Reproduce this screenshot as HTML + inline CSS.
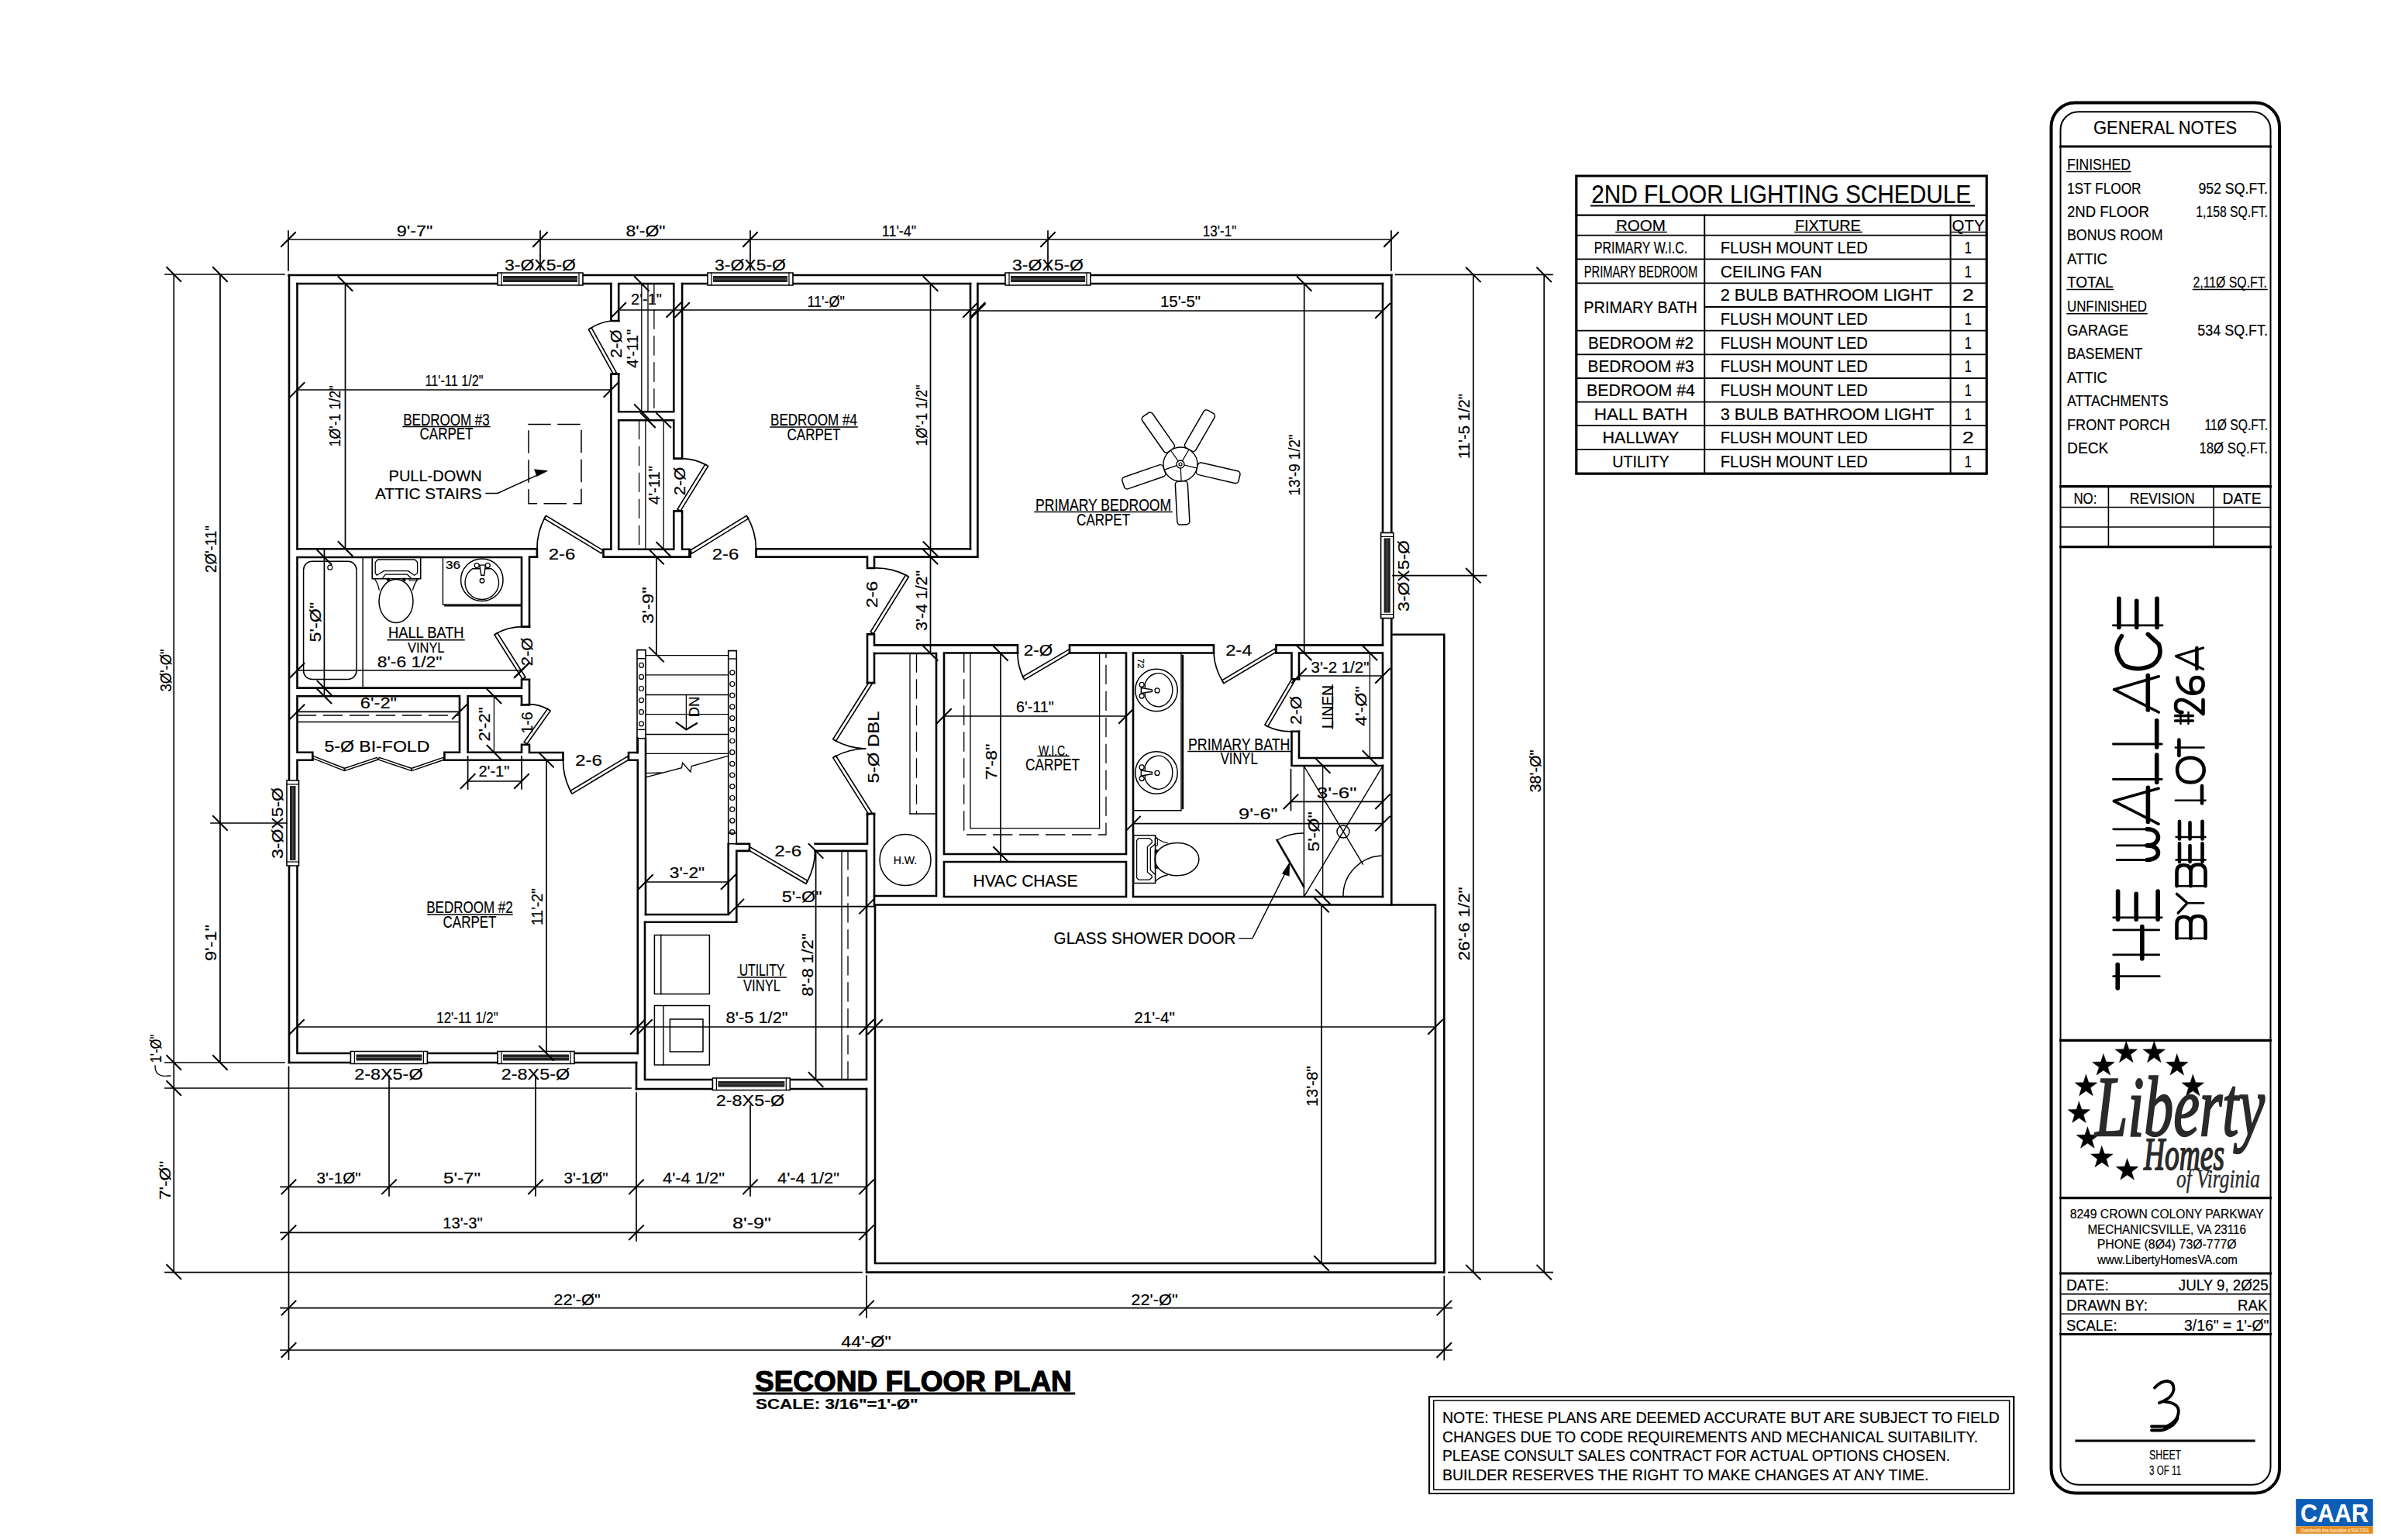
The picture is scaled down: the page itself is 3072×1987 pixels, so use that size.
<!DOCTYPE html>
<html><head><meta charset="utf-8"><style>
html,body{margin:0;padding:0;background:#fff;}
svg{display:block;}
svg text{font-family:"Liberation Sans",sans-serif;fill:#000;stroke:#000;stroke-width:0.2px;}
</style></head><body>
<svg width="3072" height="1987" viewBox="0 0 3072 1987" stroke="#000" fill="none" stroke-linecap="square">
<defs><filter id="thin3" x="-10%" y="-10%" width="120%" height="120%"><feMorphology operator="erode" radius="1.9"/></filter><filter id="thin2" x="-10%" y="-10%" width="120%" height="120%"><feMorphology operator="erode" radius="0.9"/></filter></defs>
<rect x="0" y="0" width="3072" height="1987" fill="#fff" stroke="none"/>
<line x1="372.5" y1="355" x2="642" y2="355" stroke-width="2.6"/>
<line x1="752" y1="355" x2="913" y2="355" stroke-width="2.6"/>
<line x1="1023" y1="355" x2="1297" y2="355" stroke-width="2.6"/>
<line x1="1407" y1="355" x2="1795.3" y2="355" stroke-width="2.6"/>
<line x1="1795.3" y1="355" x2="1795.3" y2="687.4" stroke-width="2.6"/>
<line x1="1795.3" y1="797.6" x2="1795.3" y2="1167.5" stroke-width="2.6"/>
<line x1="373" y1="355" x2="373" y2="1007" stroke-width="2.6"/>
<line x1="373" y1="1117" x2="373" y2="1371" stroke-width="2.6"/>
<line x1="373" y1="1371" x2="452.4" y2="1371" stroke-width="2.6"/>
<line x1="551.4" y1="1371" x2="642" y2="1371" stroke-width="2.6"/>
<line x1="741" y1="1371" x2="821" y2="1371" stroke-width="2.6"/>
<line x1="821" y1="1371" x2="821" y2="1405" stroke-width="2.6"/>
<line x1="821" y1="1405" x2="919.4" y2="1405" stroke-width="2.6"/>
<line x1="1019.3" y1="1405" x2="1118" y2="1405" stroke-width="2.6"/>
<polyline points="1118,1405 1118,1641.6 1863.3,1641.6 1863.3,818.7 1795.3,818.7" stroke-width="2.6"/>
<polyline points="1129,1167.5 1129,1630 1852,1630 1852,1167.5 1129,1167.5" stroke-width="2.6"/>
<line x1="383.5" y1="366" x2="642" y2="366" stroke-width="2.6"/>
<line x1="752" y1="366" x2="788.4" y2="366" stroke-width="2.6"/>
<line x1="383.5" y1="366" x2="383.5" y2="708.3" stroke-width="2.6"/>
<polyline points="383.5,708.3 692.9,708.3 692.9,718.6" stroke-width="2.6"/>
<polyline points="788.4,366 788.4,414 798.2,414" stroke-width="2.6"/>
<polyline points="798.2,482.6 788.4,482.6 788.4,708.8 778.5,708.8 778.5,718.6 889.5,718.6 889.5,708.8 880.1,708.8 880.1,659.4 869.3,659.4" stroke-width="2.6"/>
<polyline points="869.3,591.6 880.1,591.6 880.1,366" stroke-width="2.6"/>
<polyline points="798.2,414 798.2,366 869.3,366 869.3,531.2 798.2,531.2 798.2,482.6" stroke-width="2.6"/>
<polyline points="869.3,591.6 869.3,542.3 798.2,542.3 798.2,708.8 869.3,708.8 869.3,659.4" stroke-width="2.6"/>
<line x1="827.8" y1="366" x2="827.8" y2="531.2" stroke-width="1.3"/>
<line x1="836" y1="366" x2="836" y2="531.2" stroke-width="1.3"/>
<line x1="843.9" y1="366" x2="843.9" y2="531.2" stroke-width="1.3" stroke-dasharray="24 10"/>
<line x1="824.6" y1="542.3" x2="824.6" y2="708.8" stroke-width="1.3" stroke-dasharray="24 10"/>
<line x1="832.8" y1="542.3" x2="832.8" y2="708.8" stroke-width="1.3"/>
<line x1="856.2" y1="542.3" x2="856.2" y2="708.8" stroke-width="1.3"/>
<line x1="880.1" y1="366" x2="913" y2="366" stroke-width="2.6"/>
<line x1="1023" y1="366" x2="1252" y2="366" stroke-width="2.6"/>
<line x1="1252" y1="366" x2="1252" y2="708.3" stroke-width="2.6"/>
<polyline points="1252,708.3 975.5,708.3 975.5,718.6 1119,718.6 1119,733 1128,733 1128,718.6 1261.4,718.6 1261.4,366" stroke-width="2.6"/>
<line x1="890.8" y1="709.6" x2="890.8" y2="718.6" stroke-width="2.6"/>
<line x1="1261.4" y1="366" x2="1297" y2="366" stroke-width="2.6"/>
<line x1="1407" y1="366" x2="1784" y2="366" stroke-width="2.6"/>
<line x1="1784" y1="366" x2="1784" y2="687.4" stroke-width="2.6"/>
<line x1="1784" y1="797.6" x2="1784" y2="832.4" stroke-width="2.6"/>
<polyline points="1784,832.4 1646.5,832.4 1646.5,842.5" stroke-width="2.6"/>
<polyline points="1566,842.5 1566,832.4 1380,832.4 1380,842.5" stroke-width="2.6"/>
<polyline points="1313,842.5 1313,832.4 1128,832.4 1128,818.4 1119,818.4 1119,881" stroke-width="2.6"/>
<polyline points="1119,1050 1119,1088.8 1051.6,1088.8" stroke-width="2.6"/>
<polyline points="673,808.7 683,808.7 683,718.6 692.9,718.6" stroke-width="2.6"/>
<polyline points="683,808.7 673,808.7 673,719 383.5,719 383.5,887.6 673,887.6 673,876.7 683,876.7 683,909.4 673,909.4" stroke-width="2.6"/>
<polyline points="673,909.4 673,898.3 603.6,898.3 603.6,970.8 673,970.8 673,960.7 683,960.7 683,971 726.5,971 726.5,980.7" stroke-width="2.6"/>
<line x1="637.4" y1="898.3" x2="637.4" y2="970.8" stroke-width="1.3"/>
<polyline points="403.3,980.8 403.3,970.8 383.5,970.8 383.5,898.3 593,898.3 593,970.8 573.4,970.8 573.4,980.8" stroke-width="2.6"/>
<line x1="383.5" y1="923" x2="593" y2="923" stroke-width="1.3" stroke-dasharray="24 10"/>
<line x1="383.5" y1="931.5" x2="593" y2="931.5" stroke-width="1.3"/>
<polyline points="383.5,1007 383.5,980.8 403.3,980.8" stroke-width="2.6"/>
<polyline points="573.4,980.8 726.5,980.7" stroke-width="2.6"/>
<polyline points="383.5,1117 383.5,1359 452.4,1359" stroke-width="2.6"/>
<line x1="551.4" y1="1359" x2="642" y2="1359" stroke-width="2.6"/>
<line x1="741" y1="1359" x2="822.8" y2="1359" stroke-width="2.6"/>
<polyline points="822.8,1359 822.8,980.7 811,980.7 811,971 822.6,971 822.6,952.7" stroke-width="2.6"/>
<polygon points="822,838.6 833,838.6 833,952.7 822,952.7" stroke-width="1.6"/>
<line x1="822" y1="849.7" x2="833" y2="849.7" stroke-width="1.4"/>
<line x1="822" y1="941.4" x2="833" y2="941.4" stroke-width="1.4"/>
<circle cx="827.5" cy="858.3" r="3" stroke-width="1.2"/>
<circle cx="827.5" cy="873.4" r="3" stroke-width="1.2"/>
<circle cx="827.5" cy="888.5" r="3" stroke-width="1.2"/>
<circle cx="827.5" cy="903.6" r="3" stroke-width="1.2"/>
<circle cx="827.5" cy="918.7" r="3" stroke-width="1.2"/>
<circle cx="827.5" cy="933.8" r="3" stroke-width="1.2"/>
<polygon points="939.7,839.6 950.3,839.6 950.3,1088.8 939.7,1088.8" stroke-width="1.6"/>
<line x1="939.7" y1="850" x2="950.3" y2="850" stroke-width="1.4"/>
<line x1="939.7" y1="1075" x2="950.3" y2="1075" stroke-width="1.4"/>
<circle cx="944.8" cy="867.8" r="3" stroke-width="1.2"/>
<circle cx="944.8" cy="882.5" r="3" stroke-width="1.2"/>
<circle cx="944.8" cy="897.2" r="3" stroke-width="1.2"/>
<circle cx="944.8" cy="911.9" r="3" stroke-width="1.2"/>
<circle cx="944.8" cy="926.6" r="3" stroke-width="1.2"/>
<circle cx="944.8" cy="941.3" r="3" stroke-width="1.2"/>
<circle cx="944.8" cy="956" r="3" stroke-width="1.2"/>
<circle cx="944.8" cy="970.7" r="3" stroke-width="1.2"/>
<circle cx="944.8" cy="985.4" r="3" stroke-width="1.2"/>
<circle cx="944.8" cy="1000.1" r="3" stroke-width="1.2"/>
<circle cx="944.8" cy="1014.8" r="3" stroke-width="1.2"/>
<circle cx="944.8" cy="1029.5" r="3" stroke-width="1.2"/>
<circle cx="944.8" cy="1044.2" r="3" stroke-width="1.2"/>
<circle cx="944.8" cy="1058.9" r="3" stroke-width="1.2"/>
<circle cx="944.8" cy="1073.6" r="3" stroke-width="1.2"/>
<line x1="833" y1="845.6" x2="939.7" y2="845.6" stroke-width="1.3"/>
<line x1="833" y1="870.8" x2="939.7" y2="870.8" stroke-width="1.3"/>
<line x1="833" y1="896.5" x2="939.7" y2="896.5" stroke-width="1.3"/>
<line x1="833" y1="921.7" x2="939.7" y2="921.7" stroke-width="1.3"/>
<line x1="833" y1="947.5" x2="939.7" y2="947.5" stroke-width="1.3"/>
<line x1="833" y1="972.3" x2="939.7" y2="972.3" stroke-width="1.3"/>
<polyline points="833,1003 879.5,990.7 880.6,984.3 891,996 892.2,988.5 939.7,975.2" stroke-width="1.3"/>
<line x1="833" y1="997.6" x2="853" y2="997" stroke-width="1.3"/>
<line x1="833" y1="952.7" x2="833" y2="1180" stroke-width="2.6"/>
<line x1="822.6" y1="952.7" x2="822.6" y2="971" stroke-width="2.6"/>
<polyline points="833,1180 939.7,1180 939.7,1088.8" stroke-width="2.6"/>
<polyline points="833,1189.7 950.3,1189.7 950.3,1097.9 967,1097.9 967,1088.8 950.3,1088.8" stroke-width="2.6"/>
<line x1="885.4" y1="897" x2="885.4" y2="941.4" stroke-width="1.3"/>
<polyline points="872.7,932.3 885.4,941.4 898.9,933.3" stroke-width="2.2"/>
<text x="895.9" y="918.5" font-size="18.2" text-anchor="middle" textLength="27" lengthAdjust="spacingAndGlyphs" transform="rotate(-90 895.9 912)">DN</text>
<polyline points="1051.6,1097.9 1118,1097.9 1118,1393 1019.3,1393" stroke-width="2.6"/>
<polyline points="919.4,1393 832,1393 832,1189.7" stroke-width="2.6"/>
<line x1="1086" y1="1097.9" x2="1086" y2="1393" stroke-width="1.3"/>
<line x1="1094" y1="1097.9" x2="1094" y2="1393" stroke-width="1.3" stroke-dasharray="24 10"/>
<polygon points="844.4,1206.4 915.4,1206.4 915.4,1282.6 844.4,1282.6" stroke-width="1.5"/>
<line x1="852.8" y1="1206.4" x2="852.8" y2="1282.6" stroke-width="1.4"/>
<polygon points="844.4,1297.6 915.4,1297.6 915.4,1374 844.4,1374" stroke-width="1.5"/>
<line x1="856" y1="1297.6" x2="856" y2="1374" stroke-width="1.4"/>
<polygon points="864.4,1315 907,1315 907,1357 864.4,1357" stroke-width="1.5"/>
<line x1="1128" y1="843" x2="1128" y2="881" stroke-width="2.6"/>
<line x1="1128" y1="1050" x2="1128" y2="1167.5" stroke-width="2.6"/>
<line x1="1119" y1="1050" x2="1128" y2="1050" stroke-width="2.6"/>
<line x1="1119" y1="881" x2="1128" y2="881" stroke-width="2.6"/>
<polyline points="1128,843 1208,843 1208,1156 1128,1156" stroke-width="2.6"/>
<line x1="1174" y1="843" x2="1174" y2="1050" stroke-width="1.3"/>
<line x1="1182.5" y1="843" x2="1182.5" y2="1050" stroke-width="1.3" stroke-dasharray="24 10"/>
<line x1="1174" y1="1050" x2="1208" y2="1050" stroke-width="1.3"/>
<circle cx="1168" cy="1109.6" r="33" stroke-width="1.5"/>
<text x="1168" y="1114.6" font-size="14" text-anchor="middle" textLength="30.5" lengthAdjust="spacingAndGlyphs">H.W.</text>
<polyline points="1313,842.5 1218,842.5 1218,1102 1453,1102 1453,842.5 1380,842.5" stroke-width="2.6"/>
<polygon points="1218,1112 1453,1112 1453,1157 1218,1157" stroke-width="2.6"/>
<line x1="1252" y1="843" x2="1252" y2="1068.7" stroke-width="1.3"/>
<line x1="1252" y1="1068.7" x2="1418.6" y2="1068.7" stroke-width="1.3"/>
<line x1="1418.6" y1="1068.7" x2="1418.6" y2="843" stroke-width="1.3"/>
<polyline points="1243.7,843 1243.7,1077 1427,1077 1427,843" stroke-width="1.3" stroke-dasharray="24 10"/>
<polyline points="1566,842.5 1462,842.5 1462,1157 1784,1157" stroke-width="2.6"/>
<polyline points="1646.5,842.5 1666.5,842.5 1666.5,876.3 1676,876.3" stroke-width="2.6"/>
<polyline points="1676,943.8 1666.5,943.8 1666.5,988 1784,988" stroke-width="2.6"/>
<polyline points="1676,876.3 1676,842.5 1784,842.5 1784,978 1676,978 1676,943.8" stroke-width="2.6"/>
<line x1="1767.4" y1="842.5" x2="1767.4" y2="978" stroke-width="1.3"/>
<line x1="1682.4" y1="988" x2="1682.4" y2="1157" stroke-width="1.5"/>
<line x1="1784" y1="988" x2="1784" y2="1157" stroke-width="2.6"/>
<line x1="1682.4" y1="988.5" x2="1758.4" y2="1115" stroke-width="1.4"/>
<line x1="1784" y1="988.5" x2="1682.4" y2="1157" stroke-width="1.4"/>
<circle cx="1733" cy="1073" r="8" stroke-width="1.4"/>
<path d="M1733 1157 A52 52 0 0 1 1784 1104" stroke-width="1.5"/>
<line x1="1706.7" y1="988" x2="1706.7" y2="1157" stroke-width="1.3"/>
<line x1="1682" y1="1143.6" x2="1647.6" y2="1084" stroke-width="2.6"/>
<path d="M1647.6 1084 A68 68 0 0 1 1682 1075" stroke-width="1.4"/>
<polyline points="1462,1045.7 1524,1045.7 1524,843" stroke-width="1.4"/>
<line x1="1526" y1="846" x2="1526" y2="1043" stroke-width="2.4"/>
<circle cx="1492" cy="890.5" r="27.2" stroke-width="1.5"/>
<path d="M1477.3 881.9 A18.5 21.5 0 1 1 1477.3 898.6 Z" stroke-width="1.4"/>
<circle cx="1493" cy="890.9" r="3" stroke-width="1.3"/>
<polygon points="1472.3,887.5 1486.4,889.8 1486.4,892.3 1472.3,894.5" stroke-width="1.4" fill="#fff"/>
<circle cx="1473.2" cy="883.4" r="3" stroke-width="1.3" fill="#fff"/>
<circle cx="1473.2" cy="898" r="3" stroke-width="1.3" fill="#fff"/>
<circle cx="1492" cy="997" r="27.2" stroke-width="1.5"/>
<path d="M1477.3 988.4 A18.5 21.5 0 1 1 1477.3 1005.1 Z" stroke-width="1.4"/>
<circle cx="1493" cy="997.4" r="3" stroke-width="1.3"/>
<polygon points="1472.3,994 1486.4,996.3 1486.4,998.8 1472.3,1001" stroke-width="1.4" fill="#fff"/>
<circle cx="1473.2" cy="989.9" r="3" stroke-width="1.3" fill="#fff"/>
<circle cx="1473.2" cy="1004.5" r="3" stroke-width="1.3" fill="#fff"/>
<text x="1472" y="860" font-size="11.2" text-anchor="middle" textLength="13" lengthAdjust="spacingAndGlyphs" transform="rotate(90 1472 856)">72</text>
<polygon points="1462.5,1077.7 1490.6,1077.7 1490.6,1139.5 1462.5,1139.5" stroke-width="1.6"/>
<path d="M1469 1081.6 L1483 1081.6 L1486.2 1084.5 L1486.2 1087.5 L1480.4 1092.6 L1480.4 1125.2 L1486.2 1130 L1486.2 1132.5 L1483 1135.1 L1469 1135.1 L1466.6 1132.5 L1466.6 1084.5 Z" stroke-width="1.3"/>
<polyline points="1490.9,1088.7 1484.3,1094.3 1484.3,1122.4 1490.6,1128.5" stroke-width="1.3"/>
<ellipse cx="1518.5" cy="1108.6" rx="28.4" ry="21.2" stroke-width="1.5"/>
<path d="M1490.9 1079.9 Q1497 1086 1506 1087.6 M1490.9 1136.8 Q1497 1131 1506 1129" stroke-width="1.3"/>
<line x1="1490.3" y1="1098" x2="1490.3" y2="1119" stroke-width="1.3"/>
<polygon points="1490.8,1081.6 1493.4,1081.6 1493.4,1091 1490.8,1091" stroke-width="1"/>
<circle cx="1492" cy="1098.1" r="1.6" stroke-width="1.2" fill="#000"/>
<circle cx="1492" cy="1119.1" r="1.6" stroke-width="1.2" fill="#000"/>
<rect x="391.6" y="724.2" width="68.4" height="152.3" rx="11" stroke-width="1.5"/>
<circle cx="425.8" cy="732.2" r="3" stroke-width="1.2"/>
<line x1="468.1" y1="719" x2="468.1" y2="887.6" stroke-width="1.4"/>
<polygon points="480.2,718.6 542.7,718.6 542.7,746.8 480.2,746.8" stroke-width="1.6"/>
<path d="M486.2 742.2 L484.2 739.5 L484.2 725.5 L487.5 722 L535.3 722 L538.6 725.5 L538.6 739.5 L534.6 742.2 L526.5 736.7 L495.3 736.7 Z" stroke-width="1.3"/>
<polyline points="493.3,746.3 497.3,741.2 525.5,741.2 530.6,746.3" stroke-width="1.3"/>
<path d="M483.2 746.8 Q487.5 752 489.2 761 M539.6 746.8 Q535 752 532.6 761" stroke-width="1.3"/>
<ellipse cx="511" cy="775.5" rx="22" ry="28" stroke-width="1.5"/>
<circle cx="500.8" cy="747.8" r="1.6" stroke-width="1.2" fill="#000"/>
<circle cx="521.5" cy="747.8" r="1.6" stroke-width="1.2" fill="#000"/>
<polygon points="528.5,746.8 537.6,746.8 537.6,749.2 528.5,749.2" stroke-width="1"/>
<polyline points="571.4,719 571.4,780 673,780" stroke-width="1.4"/>
<line x1="573.9" y1="781.8" x2="671.2" y2="781.8" stroke-width="1.6"/>
<circle cx="621.8" cy="748.3" r="27.2" stroke-width="1.5"/>
<path d="M609.8 733.7 A21.7 21.7 0 1 0 633.8 733.7 Z" stroke-width="1.4"/>
<circle cx="622" cy="749.3" r="2.8" stroke-width="1.3"/>
<polygon points="618.8,729.1 626.3,729.1 624.8,742.2 620.8,742.2" stroke-width="1.4" fill="#fff"/>
<circle cx="615.2" cy="729.6" r="3" stroke-width="1.3" fill="#fff"/>
<circle cx="629.3" cy="729.6" r="3" stroke-width="1.3" fill="#fff"/>
<text x="584.5" y="733.5" font-size="15.4" text-anchor="middle" textLength="19" lengthAdjust="spacingAndGlyphs">36</text>
<polygon points="778.1,710.1 704.4,665.3 702.2,669.1 775.9,713.9" stroke-width="1.6"/>
<path d="M703.3 667.2 A86.2 86.2 0 0 0 692.9 708.5" stroke-width="1.7"/>
<polygon points="893.1,713.9 965.6,669.1 963.2,665.3 890.7,710.1" stroke-width="1.6"/>
<path d="M964.4 667.2 A85.2 85.2 0 0 1 975.5 708.5" stroke-width="1.7"/>
<polygon points="795.2,480.7 763.1,422.8 759.3,425 791.4,482.9" stroke-width="1.6"/>
<path d="M761.2 423.9 A66.2 66.2 0 0 1 788.4 414" stroke-width="1.7"/>
<polygon points="877.9,659.4 913.6,601.4 909.8,599 874.1,657" stroke-width="1.6"/>
<path d="M911.7 600.2 A68.1 68.1 0 0 0 880.1 591.6" stroke-width="1.7"/>
<polygon points="677.9,873.8 641.7,816.6 637.9,819 674.1,876.2" stroke-width="1.6"/>
<path d="M639.8 817.8 A67.7 67.7 0 0 1 673 808.7" stroke-width="1.7"/>
<polygon points="679.8,960 710.1,917.1 706.5,914.5 676.2,957.4" stroke-width="1.6"/>
<path d="M708.3 915.8 A52.5 52.5 0 0 0 673 909.4" stroke-width="1.7"/>
<polygon points="809.4,976.1 735.9,1020.4 738.1,1024.2 811.6,979.9" stroke-width="1.6"/>
<path d="M737 1022.3 A85.8 85.8 0 0 1 726.5 980.7" stroke-width="1.7"/>
<polygon points="965.9,1096.9 1039.9,1140.3 1042.1,1136.5 968.1,1093.1" stroke-width="1.6"/>
<path d="M1041 1138.4 A85.8 85.8 0 0 0 1051.6 1097.2" stroke-width="1.7"/>
<polygon points="1126.9,817.7 1172.4,744.2 1168.6,741.8 1123.1,815.3" stroke-width="1.6"/>
<path d="M1170.5 743 A86.4 86.4 0 0 0 1128 733" stroke-width="1.7"/>
<polygon points="1378.9,838.1 1319.6,873.1 1321.8,876.9 1381.1,841.9" stroke-width="1.6"/>
<path d="M1320.7 875 A68.9 68.9 0 0 1 1313 842.5" stroke-width="1.7"/>
<polygon points="1644.3,837.4 1576.7,877.9 1578.9,881.7 1646.5,841.2" stroke-width="1.6"/>
<path d="M1577.8 879.8 A78.8 78.8 0 0 1 1566 843" stroke-width="1.7"/>
<polygon points="1666.7,876.2 1631.9,935.3 1635.7,937.5 1670.5,878.4" stroke-width="1.6"/>
<path d="M1633.8 936.4 A68.6 68.6 0 0 0 1666.5 943.8" stroke-width="1.7"/>
<polygon points="1121.1,880.3 1074.7,953.8 1078.5,956.2 1124.9,882.7" stroke-width="1.6"/>
<path d="M1076.6 955 A86.9 86.9 0 0 0 1116.5 966" stroke-width="1.7"/>
<polygon points="1124.9,1048.8 1078.5,975.2 1074.7,977.6 1121.1,1051.2" stroke-width="1.6"/>
<path d="M1076.6 976.4 A87 87 0 0 1 1116.5 966" stroke-width="1.7"/>
<polygon points="402.8,978.2 444,994.3 445,991.5 403.8,975.4" stroke-width="1.4"/>
<polygon points="445,994.3 487.3,980.2 486.3,977.4 444,991.5" stroke-width="1.4"/>
<polygon points="488.3,980.2 530.5,994.3 531.5,991.5 489.3,977.4" stroke-width="1.4"/>
<polygon points="531.5,994.3 572.9,980.2 571.9,977.4 530.5,991.5" stroke-width="1.4"/>
<polygon points="642,352 752,352 752,368 642,368" stroke-width="1.6" fill="#fff"/>
<line x1="647" y1="352" x2="647" y2="368" stroke-width="1.2"/>
<line x1="747" y1="352" x2="747" y2="368" stroke-width="1.2"/>
<rect x="649" y="356" width="96" height="8" fill="#222" stroke="none"/>
<line x1="649" y1="360" x2="745" y2="360" stroke-width="0.8" stroke="#777"/>
<polygon points="913,352 1023,352 1023,368 913,368" stroke-width="1.6" fill="#fff"/>
<line x1="918" y1="352" x2="918" y2="368" stroke-width="1.2"/>
<line x1="1018" y1="352" x2="1018" y2="368" stroke-width="1.2"/>
<rect x="920" y="356" width="96" height="8" fill="#222" stroke="none"/>
<line x1="920" y1="360" x2="1016" y2="360" stroke-width="0.8" stroke="#777"/>
<polygon points="1297,352 1407,352 1407,368 1297,368" stroke-width="1.6" fill="#fff"/>
<line x1="1302" y1="352" x2="1302" y2="368" stroke-width="1.2"/>
<line x1="1402" y1="352" x2="1402" y2="368" stroke-width="1.2"/>
<rect x="1304" y="356" width="96" height="8" fill="#222" stroke="none"/>
<line x1="1304" y1="360" x2="1400" y2="360" stroke-width="0.8" stroke="#777"/>
<polygon points="452.4,1356.5 551.4,1356.5 551.4,1372.5 452.4,1372.5" stroke-width="1.6" fill="#fff"/>
<line x1="457.4" y1="1356.5" x2="457.4" y2="1372.5" stroke-width="1.2"/>
<line x1="546.4" y1="1356.5" x2="546.4" y2="1372.5" stroke-width="1.2"/>
<rect x="459.4" y="1360.5" width="85" height="8" fill="#222" stroke="none"/>
<line x1="459.4" y1="1364.5" x2="544.4" y2="1364.5" stroke-width="0.8" stroke="#777"/>
<polygon points="642,1356.5 741,1356.5 741,1372.5 642,1372.5" stroke-width="1.6" fill="#fff"/>
<line x1="647" y1="1356.5" x2="647" y2="1372.5" stroke-width="1.2"/>
<line x1="736" y1="1356.5" x2="736" y2="1372.5" stroke-width="1.2"/>
<rect x="649" y="1360.5" width="85" height="8" fill="#222" stroke="none"/>
<line x1="649" y1="1364.5" x2="734" y2="1364.5" stroke-width="0.8" stroke="#777"/>
<polygon points="919.4,1391 1019.3,1391 1019.3,1406.5 919.4,1406.5" stroke-width="1.6" fill="#fff"/>
<line x1="924.4" y1="1391" x2="924.4" y2="1406.5" stroke-width="1.2"/>
<line x1="1014.3" y1="1391" x2="1014.3" y2="1406.5" stroke-width="1.2"/>
<rect x="926.4" y="1395" width="85.9" height="7.5" fill="#222" stroke="none"/>
<line x1="926.4" y1="1398.8" x2="1012.3" y2="1398.8" stroke-width="0.8" stroke="#777"/>
<polygon points="370,1007 385.5,1007 385.5,1117 370,1117" stroke-width="1.6" fill="#fff"/>
<line x1="370" y1="1012" x2="385.5" y2="1012" stroke-width="1.2"/>
<line x1="370" y1="1112" x2="385.5" y2="1112" stroke-width="1.2"/>
<rect x="374" y="1014" width="7.5" height="96" fill="#222" stroke="none"/>
<line x1="377.8" y1="1014" x2="377.8" y2="1110" stroke-width="0.8" stroke="#777"/>
<polygon points="1781.6,687.4 1797.8,687.4 1797.8,797.6 1781.6,797.6" stroke-width="1.6" fill="#fff"/>
<line x1="1781.6" y1="692.4" x2="1797.8" y2="692.4" stroke-width="1.2"/>
<line x1="1781.6" y1="792.6" x2="1797.8" y2="792.6" stroke-width="1.2"/>
<rect x="1785.6" y="694.4" width="8.2" height="96.2" fill="#222" stroke="none"/>
<line x1="1789.7" y1="694.4" x2="1789.7" y2="790.6" stroke-width="0.8" stroke="#777"/>
<polygon points="682,547.4 750,547.4 750,649.7 682,649.7" stroke-width="1.5" stroke-dasharray="28 10"/>
<polyline points="627,636.4 642,636.4 705,607.7" stroke-width="1.5"/>
<polygon points="705,607.7 690,606 693,614" stroke-width="1.3" fill="#000"/>
<circle cx="1523" cy="599" r="22" stroke-width="1.4"/>
<circle cx="1523" cy="599" r="5" stroke-width="1.3"/>
<circle cx="1523" cy="599" r="2" stroke-width="1.2"/>
<g transform="translate(1523 599) rotate(-125)"><rect x="22" y="-8" width="56" height="16" rx="4" stroke-width="1.5" fill="#fff"/><line x1="5" y1="0" x2="22" y2="0" stroke-width="1.2"/></g>
<g transform="translate(1523 599) rotate(-60)"><rect x="22" y="-8" width="56" height="16" rx="4" stroke-width="1.5" fill="#fff"/><line x1="5" y1="0" x2="22" y2="0" stroke-width="1.2"/></g>
<g transform="translate(1523 599) rotate(13)"><rect x="22" y="-8" width="56" height="16" rx="4" stroke-width="1.5" fill="#fff"/><line x1="5" y1="0" x2="22" y2="0" stroke-width="1.2"/></g>
<g transform="translate(1523 599) rotate(87)"><rect x="22" y="-8" width="56" height="16" rx="4" stroke-width="1.5" fill="#fff"/><line x1="5" y1="0" x2="22" y2="0" stroke-width="1.2"/></g>
<g transform="translate(1523 599) rotate(161)"><rect x="22" y="-8" width="56" height="16" rx="4" stroke-width="1.5" fill="#fff"/><line x1="5" y1="0" x2="22" y2="0" stroke-width="1.2"/></g>
<line x1="372" y1="309" x2="1795" y2="309" stroke-width="1.7"/>
<line x1="363" y1="318" x2="381" y2="300" stroke-width="2"/>
<line x1="372" y1="298" x2="372" y2="349" stroke-width="1.7"/>
<line x1="688" y1="318" x2="706" y2="300" stroke-width="2"/>
<line x1="697" y1="298" x2="697" y2="330" stroke-width="1.7"/>
<line x1="959" y1="318" x2="977" y2="300" stroke-width="2"/>
<line x1="968" y1="298" x2="968" y2="330" stroke-width="1.7"/>
<line x1="1343" y1="318" x2="1361" y2="300" stroke-width="2"/>
<line x1="1352" y1="298" x2="1352" y2="330" stroke-width="1.7"/>
<line x1="1786" y1="318" x2="1804" y2="300" stroke-width="2"/>
<line x1="1795" y1="298" x2="1795" y2="349" stroke-width="1.7"/>
<text x="535" y="304.5" font-size="20.9" text-anchor="middle" textLength="46.6" lengthAdjust="spacingAndGlyphs">9'-7"</text>
<text x="833" y="304.5" font-size="20.9" text-anchor="middle" textLength="51" lengthAdjust="spacingAndGlyphs">8'-Ø"</text>
<text x="1160" y="304.5" font-size="20.9" text-anchor="middle" textLength="44.5" lengthAdjust="spacingAndGlyphs">11'-4"</text>
<text x="1573.5" y="304.5" font-size="20.9" text-anchor="middle" textLength="43.5" lengthAdjust="spacingAndGlyphs">13'-1"</text>
<text x="697" y="348.5" font-size="20.9" text-anchor="middle" textLength="92" lengthAdjust="spacingAndGlyphs">3-ØX5-Ø</text>
<text x="968" y="348.5" font-size="20.9" text-anchor="middle" textLength="92" lengthAdjust="spacingAndGlyphs">3-ØX5-Ø</text>
<text x="1352" y="348.5" font-size="20.9" text-anchor="middle" textLength="92" lengthAdjust="spacingAndGlyphs">3-ØX5-Ø</text>
<text x="501.4" y="1392.5" font-size="20.9" text-anchor="middle" textLength="88.3" lengthAdjust="spacingAndGlyphs">2-8X5-Ø</text>
<text x="691" y="1392.5" font-size="20.9" text-anchor="middle" textLength="88.3" lengthAdjust="spacingAndGlyphs">2-8X5-Ø</text>
<text x="968" y="1426.5" font-size="20.9" text-anchor="middle" textLength="88.3" lengthAdjust="spacingAndGlyphs">2-8X5-Ø</text>
<text x="357" y="1069.5" font-size="20.9" text-anchor="middle" textLength="92" lengthAdjust="spacingAndGlyphs" transform="rotate(-90 357 1062)">3-ØX5-Ø</text>
<text x="1810.7" y="750.5" font-size="20.9" text-anchor="middle" textLength="92" lengthAdjust="spacingAndGlyphs" transform="rotate(-90 1810.7 743)">3-ØX5-Ø</text>
<line x1="697" y1="330" x2="697" y2="349" stroke-width="1.7"/>
<line x1="968" y1="330" x2="968" y2="349" stroke-width="1.7"/>
<line x1="1352" y1="330" x2="1352" y2="349" stroke-width="1.7"/>
<line x1="213" y1="354" x2="367" y2="354" stroke-width="1.7"/>
<line x1="224.3" y1="354" x2="224.3" y2="1641" stroke-width="1.7"/>
<line x1="284" y1="354" x2="284" y2="1371" stroke-width="1.7"/>
<line x1="215.3" y1="345" x2="233.3" y2="363" stroke-width="2"/>
<line x1="215.3" y1="1362" x2="233.3" y2="1380" stroke-width="2"/>
<line x1="215.3" y1="1395" x2="233.3" y2="1413" stroke-width="2"/>
<line x1="215.3" y1="1632" x2="233.3" y2="1650" stroke-width="2"/>
<line x1="275" y1="345" x2="293" y2="363" stroke-width="2"/>
<line x1="275" y1="1053" x2="293" y2="1071" stroke-width="2"/>
<line x1="275" y1="1362" x2="293" y2="1380" stroke-width="2"/>
<line x1="272" y1="1062" x2="370" y2="1062" stroke-width="1.7"/>
<line x1="213" y1="1371" x2="367" y2="1371" stroke-width="1.7"/>
<line x1="213" y1="1404" x2="814" y2="1404" stroke-width="1.7"/>
<line x1="213" y1="1641.7" x2="1112" y2="1641.7" stroke-width="1.7"/>
<text x="271" y="716" font-size="20.9" text-anchor="middle" textLength="61" lengthAdjust="spacingAndGlyphs" transform="rotate(-90 271 708.5)">2Ø'-11"</text>
<text x="271.6" y="1224.1" font-size="20.9" text-anchor="middle" textLength="47" lengthAdjust="spacingAndGlyphs" transform="rotate(-90 271.6 1216.6)">9'-1"</text>
<text x="213" y="872.5" font-size="20.9" text-anchor="middle" textLength="55" lengthAdjust="spacingAndGlyphs" transform="rotate(-90 213 865)">3Ø'-Ø"</text>
<text x="200" y="1360.5" font-size="20.9" text-anchor="middle" textLength="36.7" lengthAdjust="spacingAndGlyphs" transform="rotate(-90 200 1353)">1'-Ø"</text>
<path d="M200 1375 C200 1385 205 1390 220 1388" stroke-width="1.3"/>
<text x="212" y="1530.5" font-size="20.9" text-anchor="middle" textLength="50" lengthAdjust="spacingAndGlyphs" transform="rotate(-90 212 1523)">7'-Ø"</text>
<line x1="1800.6" y1="354.4" x2="2003" y2="354.4" stroke-width="1.7"/>
<line x1="1900.9" y1="354.4" x2="1900.9" y2="1641.6" stroke-width="1.7"/>
<line x1="1992.2" y1="354.4" x2="1992.2" y2="1641.6" stroke-width="1.7"/>
<line x1="1891.9" y1="345.4" x2="1909.9" y2="363.4" stroke-width="2"/>
<line x1="1891.9" y1="733.7" x2="1909.9" y2="751.7" stroke-width="2"/>
<line x1="1891.9" y1="1632.6" x2="1909.9" y2="1650.6" stroke-width="2"/>
<line x1="1983.2" y1="345.4" x2="2001.2" y2="363.4" stroke-width="2"/>
<line x1="1983.2" y1="1632.6" x2="2001.2" y2="1650.6" stroke-width="2"/>
<line x1="1797" y1="742.7" x2="1917.7" y2="742.7" stroke-width="1.7"/>
<line x1="1868.8" y1="1641.6" x2="2003.2" y2="1641.6" stroke-width="1.7"/>
<text x="1888" y="557.5" font-size="20.9" text-anchor="middle" textLength="84" lengthAdjust="spacingAndGlyphs" transform="rotate(-90 1888 550)">11'-5 1/2"</text>
<text x="1888" y="1199.5" font-size="20.9" text-anchor="middle" textLength="95" lengthAdjust="spacingAndGlyphs" transform="rotate(-90 1888 1192)">26'-6 1/2"</text>
<text x="1980" y="1002.5" font-size="20.9" text-anchor="middle" textLength="55" lengthAdjust="spacingAndGlyphs" transform="rotate(-90 1980 995)">38'-Ø"</text>
<line x1="372.5" y1="1376.5" x2="372.5" y2="1754" stroke-width="1.7"/>
<line x1="502" y1="1388" x2="502" y2="1543" stroke-width="1.7"/>
<line x1="691" y1="1388" x2="691" y2="1543" stroke-width="1.7"/>
<line x1="821" y1="1410" x2="821" y2="1601" stroke-width="1.7"/>
<line x1="968" y1="1426" x2="968" y2="1543" stroke-width="1.7"/>
<line x1="1118" y1="1646" x2="1118" y2="1700" stroke-width="1.7"/>
<line x1="1863.3" y1="1646.8" x2="1863.3" y2="1754.5" stroke-width="1.7"/>
<line x1="362" y1="1531.4" x2="1118" y2="1531.4" stroke-width="1.7"/>
<line x1="363.5" y1="1540.4" x2="381.5" y2="1522.4" stroke-width="2"/>
<line x1="493" y1="1540.4" x2="511" y2="1522.4" stroke-width="2"/>
<line x1="682" y1="1540.4" x2="700" y2="1522.4" stroke-width="2"/>
<line x1="812" y1="1540.4" x2="830" y2="1522.4" stroke-width="2"/>
<line x1="959" y1="1540.4" x2="977" y2="1522.4" stroke-width="2"/>
<line x1="1109" y1="1540.4" x2="1127" y2="1522.4" stroke-width="2"/>
<line x1="362" y1="1590.3" x2="1118" y2="1590.3" stroke-width="1.7"/>
<line x1="363.5" y1="1599.3" x2="381.5" y2="1581.3" stroke-width="2"/>
<line x1="812" y1="1599.3" x2="830" y2="1581.3" stroke-width="2"/>
<line x1="1109" y1="1599.3" x2="1127" y2="1581.3" stroke-width="2"/>
<line x1="362" y1="1687.6" x2="1873" y2="1687.6" stroke-width="1.7"/>
<line x1="363.5" y1="1696.6" x2="381.5" y2="1678.6" stroke-width="2"/>
<line x1="1109" y1="1696.6" x2="1127" y2="1678.6" stroke-width="2"/>
<line x1="1854.3" y1="1696.6" x2="1872.3" y2="1678.6" stroke-width="2"/>
<line x1="362" y1="1742" x2="1873" y2="1742" stroke-width="1.7"/>
<line x1="363.5" y1="1751" x2="381.5" y2="1733" stroke-width="2"/>
<line x1="1854.3" y1="1751" x2="1872.3" y2="1733" stroke-width="2"/>
<text x="437" y="1526.5" font-size="20.9" text-anchor="middle" textLength="57" lengthAdjust="spacingAndGlyphs">3'-1Ø"</text>
<text x="596" y="1526.5" font-size="20.9" text-anchor="middle" textLength="48" lengthAdjust="spacingAndGlyphs">5'-7"</text>
<text x="756" y="1526.5" font-size="20.9" text-anchor="middle" textLength="57" lengthAdjust="spacingAndGlyphs">3'-1Ø"</text>
<text x="895" y="1526.5" font-size="20.9" text-anchor="middle" textLength="80" lengthAdjust="spacingAndGlyphs">4'-4 1/2"</text>
<text x="1043" y="1526.5" font-size="20.9" text-anchor="middle" textLength="80" lengthAdjust="spacingAndGlyphs">4'-4 1/2"</text>
<text x="597" y="1584.5" font-size="20.9" text-anchor="middle" textLength="51.6" lengthAdjust="spacingAndGlyphs">13'-3"</text>
<text x="970" y="1584.5" font-size="20.9" text-anchor="middle" textLength="50" lengthAdjust="spacingAndGlyphs">8'-9"</text>
<text x="744.5" y="1683.5" font-size="20.9" text-anchor="middle" textLength="60.4" lengthAdjust="spacingAndGlyphs">22'-Ø"</text>
<text x="1489.5" y="1683.5" font-size="20.9" text-anchor="middle" textLength="60.4" lengthAdjust="spacingAndGlyphs">22'-Ø"</text>
<text x="1117.5" y="1737.5" font-size="20.9" text-anchor="middle" textLength="64.5" lengthAdjust="spacingAndGlyphs">44'-Ø"</text>
<line x1="445.5" y1="366" x2="445.5" y2="708" stroke-width="1.7"/>
<line x1="436.5" y1="357" x2="454.5" y2="375" stroke-width="2"/>
<line x1="436.5" y1="699" x2="454.5" y2="717" stroke-width="2"/>
<text x="431" y="544.5" font-size="20.9" text-anchor="middle" textLength="79" lengthAdjust="spacingAndGlyphs" transform="rotate(-90 431 537)">1Ø'-1 1/2"</text>
<line x1="383.5" y1="503" x2="788.4" y2="503" stroke-width="1.7"/>
<line x1="374.5" y1="512" x2="392.5" y2="494" stroke-width="2"/>
<line x1="779.4" y1="512" x2="797.4" y2="494" stroke-width="2"/>
<text x="586" y="497.5" font-size="20.9" text-anchor="middle" textLength="75" lengthAdjust="spacingAndGlyphs">11'-11 1/2"</text>
<line x1="798.2" y1="400" x2="1261" y2="400" stroke-width="1.7"/>
<line x1="789.2" y1="409" x2="807.2" y2="391" stroke-width="2"/>
<line x1="860.3" y1="409" x2="878.3" y2="391" stroke-width="2"/>
<line x1="871.1" y1="409" x2="889.1" y2="391" stroke-width="2"/>
<line x1="1243" y1="409" x2="1261" y2="391" stroke-width="2"/>
<line x1="1252.4" y1="409" x2="1270.4" y2="391" stroke-width="2"/>
<text x="834" y="393.1" font-size="20.9" text-anchor="middle" textLength="40" lengthAdjust="spacingAndGlyphs">2'-1"</text>
<line x1="818.8" y1="357" x2="836.8" y2="375" stroke-width="2"/>
<line x1="818.8" y1="522.2" x2="836.8" y2="540.2" stroke-width="2"/>
<line x1="827" y1="533.3" x2="845" y2="551.3" stroke-width="2"/>
<line x1="847.2" y1="533.3" x2="865.2" y2="551.3" stroke-width="2"/>
<line x1="847.2" y1="699.8" x2="865.2" y2="717.8" stroke-width="2"/>
<text x="815.5" y="457.3" font-size="20.9" text-anchor="middle" textLength="50" lengthAdjust="spacingAndGlyphs" transform="rotate(-90 815.5 449.8)">4'-11"</text>
<text x="794.5" y="451.1" font-size="20.9" text-anchor="middle" textLength="36.7" lengthAdjust="spacingAndGlyphs" transform="rotate(-90 794.5 443.6)">2-Ø</text>
<text x="843.9" y="633.5" font-size="20.9" text-anchor="middle" textLength="50" lengthAdjust="spacingAndGlyphs" transform="rotate(-90 843.9 626)">4'-11"</text>
<text x="876" y="628.5" font-size="20.9" text-anchor="middle" textLength="36.7" lengthAdjust="spacingAndGlyphs" transform="rotate(-90 876 621)">2-Ø</text>
<text x="1065.6" y="395.5" font-size="20.9" text-anchor="middle" textLength="48.4" lengthAdjust="spacingAndGlyphs">11'-Ø"</text>
<line x1="1200.5" y1="366" x2="1200.5" y2="843" stroke-width="1.7"/>
<line x1="1191.5" y1="357" x2="1209.5" y2="375" stroke-width="2"/>
<line x1="1191.5" y1="699.3" x2="1209.5" y2="717.3" stroke-width="2"/>
<line x1="1191.5" y1="709.6" x2="1209.5" y2="727.6" stroke-width="2"/>
<line x1="1191.5" y1="834" x2="1209.5" y2="852" stroke-width="2"/>
<text x="1188" y="543.5" font-size="20.9" text-anchor="middle" textLength="79" lengthAdjust="spacingAndGlyphs" transform="rotate(-90 1188 536)">1Ø'-1 1/2"</text>
<text x="1188" y="782.5" font-size="20.9" text-anchor="middle" textLength="78" lengthAdjust="spacingAndGlyphs" transform="rotate(-90 1188 775)">3'-4 1/2"</text>
<line x1="1262" y1="401" x2="1784" y2="401" stroke-width="1.7"/>
<line x1="1253" y1="410" x2="1271" y2="392" stroke-width="2"/>
<line x1="1775" y1="410" x2="1793" y2="392" stroke-width="2"/>
<text x="1523" y="395.5" font-size="20.9" text-anchor="middle" textLength="52" lengthAdjust="spacingAndGlyphs">15'-5"</text>
<line x1="1682.7" y1="366" x2="1682.7" y2="842.5" stroke-width="1.7"/>
<line x1="1673.7" y1="357" x2="1691.7" y2="375" stroke-width="2"/>
<line x1="1673.7" y1="833.5" x2="1691.7" y2="851.5" stroke-width="2"/>
<text x="1669" y="607.5" font-size="20.9" text-anchor="middle" textLength="79" lengthAdjust="spacingAndGlyphs" transform="rotate(-90 1669 600)">13'-9 1/2"</text>
<line x1="418.4" y1="708" x2="418.4" y2="898" stroke-width="1.7"/>
<line x1="409.4" y1="710" x2="427.4" y2="728" stroke-width="2"/>
<line x1="409.4" y1="878.6" x2="427.4" y2="896.6" stroke-width="2"/>
<text x="406.3" y="810.2" font-size="20.9" text-anchor="middle" textLength="51.6" lengthAdjust="spacingAndGlyphs" transform="rotate(-90 406.3 802.7)">5'-Ø"</text>
<line x1="383.5" y1="865" x2="673" y2="865" stroke-width="1.7"/>
<line x1="374.5" y1="874" x2="392.5" y2="856" stroke-width="2"/>
<line x1="664" y1="874" x2="682" y2="856" stroke-width="2"/>
<text x="528.6" y="860.5" font-size="20.9" text-anchor="middle" textLength="83.6" lengthAdjust="spacingAndGlyphs">8'-6 1/2"</text>
<line x1="383.5" y1="918.4" x2="593" y2="918.4" stroke-width="1.7"/>
<line x1="374.5" y1="927.4" x2="392.5" y2="909.4" stroke-width="2"/>
<line x1="584" y1="927.4" x2="602" y2="909.4" stroke-width="2"/>
<line x1="409.4" y1="889.3" x2="427.4" y2="907.3" stroke-width="2"/>
<text x="488.4" y="913.9" font-size="20.9" text-anchor="middle" textLength="47.3" lengthAdjust="spacingAndGlyphs">6'-2"</text>
<text x="486.4" y="970.3" font-size="20.9" text-anchor="middle" textLength="136" lengthAdjust="spacingAndGlyphs">5-Ø BI-FOLD</text>
<text x="624.7" y="942" font-size="20.9" text-anchor="middle" textLength="44" lengthAdjust="spacingAndGlyphs" transform="rotate(-90 624.7 934.5)">2'-2"</text>
<line x1="628.4" y1="889.3" x2="646.4" y2="907.3" stroke-width="2"/>
<line x1="628.4" y1="961.8" x2="646.4" y2="979.8" stroke-width="2"/>
<text x="679" y="940" font-size="20.9" text-anchor="middle" textLength="28" lengthAdjust="spacingAndGlyphs" transform="rotate(-90 679 932.5)">1-6</text>
<text x="679" y="848.5" font-size="20.9" text-anchor="middle" textLength="36.7" lengthAdjust="spacingAndGlyphs" transform="rotate(-90 679 841)">2-Ø</text>
<line x1="664" y1="874" x2="682" y2="856" stroke-width="2"/>
<line x1="603.6" y1="976" x2="603.6" y2="1018" stroke-width="1.7"/>
<line x1="673" y1="976" x2="673" y2="1018" stroke-width="1.7"/>
<line x1="603.6" y1="1008" x2="673" y2="1008" stroke-width="1.7"/>
<line x1="594.6" y1="1017" x2="612.6" y2="999" stroke-width="2"/>
<line x1="664" y1="1017" x2="682" y2="999" stroke-width="2"/>
<text x="637.4" y="1002" font-size="20.9" text-anchor="middle" textLength="40" lengthAdjust="spacingAndGlyphs">2'-1"</text>
<text x="725" y="721.6" font-size="19.6" text-anchor="middle" textLength="34.7" lengthAdjust="spacingAndGlyphs">2-6</text>
<text x="936" y="721.6" font-size="19.6" text-anchor="middle" textLength="34.7" lengthAdjust="spacingAndGlyphs">2-6</text>
<line x1="847" y1="718.6" x2="847" y2="844.6" stroke-width="1.7"/>
<line x1="838" y1="709.6" x2="856" y2="727.6" stroke-width="2"/>
<line x1="838" y1="835.6" x2="856" y2="853.6" stroke-width="2"/>
<text x="835.4" y="788.5" font-size="20.9" text-anchor="middle" textLength="47.4" lengthAdjust="spacingAndGlyphs" transform="rotate(-90 835.4 781)">3'-9"</text>
<text x="1124.7" y="774" font-size="19.6" text-anchor="middle" textLength="34.3" lengthAdjust="spacingAndGlyphs" transform="rotate(-90 1124.7 767)">2-6</text>
<text x="1126.5" y="971" font-size="19.6" text-anchor="middle" textLength="93" lengthAdjust="spacingAndGlyphs" transform="rotate(-90 1126.5 964)">5-Ø DBL</text>
<text x="759.5" y="988.4" font-size="19.6" text-anchor="middle" textLength="35" lengthAdjust="spacingAndGlyphs">2-6</text>
<line x1="705" y1="980.7" x2="705" y2="1359" stroke-width="1.7"/>
<line x1="696" y1="971.7" x2="714" y2="989.7" stroke-width="2"/>
<line x1="696" y1="1350" x2="714" y2="1368" stroke-width="2"/>
<text x="692.8" y="1177.5" font-size="20.9" text-anchor="middle" textLength="48" lengthAdjust="spacingAndGlyphs" transform="rotate(-90 692.8 1170)">11'-2"</text>
<line x1="383" y1="1325" x2="1129" y2="1325" stroke-width="1.7"/>
<line x1="374" y1="1334" x2="392" y2="1316" stroke-width="2"/>
<line x1="813.8" y1="1334" x2="831.8" y2="1316" stroke-width="2"/>
<line x1="823" y1="1334" x2="841" y2="1316" stroke-width="2"/>
<line x1="1109" y1="1334" x2="1127" y2="1316" stroke-width="2"/>
<line x1="1120" y1="1334" x2="1138" y2="1316" stroke-width="2"/>
<text x="603" y="1320.1" font-size="20.9" text-anchor="middle" textLength="79.3" lengthAdjust="spacingAndGlyphs">12'-11 1/2"</text>
<text x="606" y="1177.6" font-size="22.3" text-anchor="middle" textLength="111.6" lengthAdjust="spacingAndGlyphs">BEDROOM #2</text>
<line x1="552" y1="1180" x2="661" y2="1180" stroke-width="1.5"/>
<text x="606" y="1197.4" font-size="21.8" text-anchor="middle" textLength="69" lengthAdjust="spacingAndGlyphs">CARPET</text>
<line x1="833" y1="1138" x2="939.7" y2="1138" stroke-width="1.7"/>
<line x1="824" y1="1147" x2="842" y2="1129" stroke-width="2"/>
<line x1="930.7" y1="1147" x2="948.7" y2="1129" stroke-width="2"/>
<text x="886.5" y="1133.2" font-size="20.9" text-anchor="middle" textLength="45.4" lengthAdjust="spacingAndGlyphs">3'-2"</text>
<line x1="950.3" y1="1169.6" x2="1129" y2="1169.6" stroke-width="1.7"/>
<line x1="941.3" y1="1178.6" x2="959.3" y2="1160.6" stroke-width="2"/>
<line x1="1109" y1="1178.6" x2="1127" y2="1160.6" stroke-width="2"/>
<text x="1034.7" y="1163.8" font-size="20.9" text-anchor="middle" textLength="51.7" lengthAdjust="spacingAndGlyphs">5'-Ø"</text>
<text x="1016.7" y="1105.3" font-size="19.6" text-anchor="middle" textLength="35" lengthAdjust="spacingAndGlyphs">2-6</text>
<line x1="1052.6" y1="1097.9" x2="1052.6" y2="1393" stroke-width="1.7"/>
<line x1="1043.6" y1="1088.9" x2="1061.6" y2="1106.9" stroke-width="2"/>
<line x1="1043.6" y1="1384" x2="1061.6" y2="1402" stroke-width="2"/>
<text x="1041.6" y="1252.5" font-size="20.9" text-anchor="middle" textLength="81" lengthAdjust="spacingAndGlyphs" transform="rotate(-90 1041.6 1245)">8'-8 1/2"</text>
<text x="983" y="1258.8" font-size="21.8" text-anchor="middle" textLength="58.7" lengthAdjust="spacingAndGlyphs">UTILITY</text>
<line x1="952" y1="1261" x2="1014" y2="1261" stroke-width="1.5"/>
<text x="983" y="1278.8" font-size="21.8" text-anchor="middle" textLength="48" lengthAdjust="spacingAndGlyphs">VINYL</text>
<text x="976.6" y="1320.1" font-size="20.9" text-anchor="middle" textLength="80" lengthAdjust="spacingAndGlyphs">8'-5 1/2"</text>
<line x1="1218" y1="924" x2="1453" y2="924" stroke-width="1.7"/>
<line x1="1209" y1="933" x2="1227" y2="915" stroke-width="2"/>
<line x1="1444" y1="933" x2="1462" y2="915" stroke-width="2"/>
<text x="1335.4" y="919" font-size="20.9" text-anchor="middle" textLength="48.7" lengthAdjust="spacingAndGlyphs">6'-11"</text>
<line x1="1291" y1="843" x2="1291" y2="1112" stroke-width="1.7"/>
<line x1="1282" y1="834" x2="1300" y2="852" stroke-width="2"/>
<line x1="1282" y1="1093" x2="1300" y2="1111" stroke-width="2"/>
<text x="1278" y="990.5" font-size="20.9" text-anchor="middle" textLength="46.6" lengthAdjust="spacingAndGlyphs" transform="rotate(-90 1278 983)">7'-8"</text>
<text x="1359" y="974.5" font-size="18.2" text-anchor="middle" textLength="38" lengthAdjust="spacingAndGlyphs">W.I.C.</text>
<line x1="1339" y1="975.5" x2="1379" y2="975.5" stroke-width="1.4"/>
<text x="1358" y="993.8" font-size="21.8" text-anchor="middle" textLength="70" lengthAdjust="spacingAndGlyphs">CARPET</text>
<text x="1323" y="1143.8" font-size="21.8" text-anchor="middle" textLength="135" lengthAdjust="spacingAndGlyphs">HVAC CHASE</text>
<text x="1339.4" y="846" font-size="19.6" text-anchor="middle" textLength="37.3" lengthAdjust="spacingAndGlyphs">2-Ø</text>
<text x="1598.3" y="846" font-size="19.6" text-anchor="middle" textLength="34.3" lengthAdjust="spacingAndGlyphs">2-4</text>
<text x="1598.7" y="967.8" font-size="21.8" text-anchor="middle" textLength="131.5" lengthAdjust="spacingAndGlyphs">PRIMARY BATH</text>
<line x1="1533" y1="969.5" x2="1666" y2="969.5" stroke-width="1.5"/>
<text x="1598.7" y="985.8" font-size="21.8" text-anchor="middle" textLength="48" lengthAdjust="spacingAndGlyphs">VINYL</text>
<line x1="1462" y1="1062.6" x2="1784" y2="1062.6" stroke-width="1.7"/>
<line x1="1453" y1="1071.6" x2="1471" y2="1053.6" stroke-width="2"/>
<line x1="1775" y1="1071.6" x2="1793" y2="1053.6" stroke-width="2"/>
<text x="1623.3" y="1057.2" font-size="20.9" text-anchor="middle" textLength="50.6" lengthAdjust="spacingAndGlyphs">9'-6"</text>
<line x1="1665.5" y1="992.7" x2="1665.5" y2="1045.5" stroke-width="1.7"/>
<line x1="1665.5" y1="1034.3" x2="1784" y2="1034.3" stroke-width="1.7"/>
<line x1="1656.5" y1="1043.3" x2="1674.5" y2="1025.3" stroke-width="2"/>
<line x1="1775" y1="1043.3" x2="1793" y2="1025.3" stroke-width="2"/>
<text x="1724.6" y="1029.8" font-size="20.9" text-anchor="middle" textLength="51.7" lengthAdjust="spacingAndGlyphs">3'-6"</text>
<line x1="1697.7" y1="979" x2="1715.7" y2="997" stroke-width="2"/>
<line x1="1697.7" y1="1148" x2="1715.7" y2="1166" stroke-width="2"/>
<text x="1694" y="1080.5" font-size="20.9" text-anchor="middle" textLength="51.7" lengthAdjust="spacingAndGlyphs" transform="rotate(-90 1694 1073)">5'-Ø"</text>
<line x1="1676" y1="872" x2="1784" y2="872" stroke-width="1.7"/>
<line x1="1667" y1="881" x2="1685" y2="863" stroke-width="2"/>
<line x1="1775" y1="881" x2="1793" y2="863" stroke-width="2"/>
<text x="1729" y="868" font-size="20.9" text-anchor="middle" textLength="75" lengthAdjust="spacingAndGlyphs">3'-2 1/2"</text>
<line x1="1758.4" y1="833.5" x2="1776.4" y2="851.5" stroke-width="2"/>
<line x1="1758.4" y1="969" x2="1776.4" y2="987" stroke-width="2"/>
<text x="1755" y="918.5" font-size="20.9" text-anchor="middle" textLength="51.7" lengthAdjust="spacingAndGlyphs" transform="rotate(-90 1755 911)">4'-Ø"</text>
<text x="1712" y="919.5" font-size="20.9" text-anchor="middle" textLength="56" lengthAdjust="spacingAndGlyphs" transform="rotate(-90 1712 912)">LINEN</text>
<line x1="1719.3" y1="884" x2="1719.3" y2="940" stroke-width="1.5"/>
<text x="1671.8" y="923.4" font-size="19.6" text-anchor="middle" textLength="37" lengthAdjust="spacingAndGlyphs" transform="rotate(-90 1671.8 916.4)">2-Ø</text>
<text x="1477" y="1218.4" font-size="21.8" text-anchor="middle" textLength="234.8" lengthAdjust="spacingAndGlyphs">GLASS SHOWER DOOR</text>
<polyline points="1599,1210.6 1616,1210.6 1663.4,1116.2" stroke-width="1.4"/>
<polygon points="1663.4,1114 1655,1127 1663,1130" stroke-width="1.2" fill="#000"/>
<text x="1489.5" y="1320.1" font-size="20.9" text-anchor="middle" textLength="52.6" lengthAdjust="spacingAndGlyphs">21'-4"</text>
<line x1="1129" y1="1325" x2="1852" y2="1325" stroke-width="1.7"/>
<line x1="1843" y1="1334" x2="1861" y2="1316" stroke-width="2"/>
<line x1="1705" y1="1167.5" x2="1705" y2="1630" stroke-width="1.7"/>
<line x1="1696" y1="1158.5" x2="1714" y2="1176.5" stroke-width="2"/>
<line x1="1696" y1="1621" x2="1714" y2="1639" stroke-width="2"/>
<text x="1692.7" y="1409" font-size="20.9" text-anchor="middle" textLength="52.3" lengthAdjust="spacingAndGlyphs" transform="rotate(-90 1692.7 1401.5)">13'-8"</text>
<text x="576" y="548.5" font-size="22.3" text-anchor="middle" textLength="111.6" lengthAdjust="spacingAndGlyphs">BEDROOM #3</text>
<line x1="520" y1="550.5" x2="632" y2="550.5" stroke-width="1.5"/>
<text x="576" y="567.3" font-size="21.8" text-anchor="middle" textLength="69" lengthAdjust="spacingAndGlyphs">CARPET</text>
<text x="1050" y="549" font-size="22.3" text-anchor="middle" textLength="112" lengthAdjust="spacingAndGlyphs">BEDROOM #4</text>
<line x1="994" y1="551" x2="1106" y2="551" stroke-width="1.5"/>
<text x="1050" y="567.8" font-size="21.8" text-anchor="middle" textLength="69" lengthAdjust="spacingAndGlyphs">CARPET</text>
<text x="1423.6" y="659" font-size="22.3" text-anchor="middle" textLength="175" lengthAdjust="spacingAndGlyphs">PRIMARY BEDROOM</text>
<line x1="1335" y1="660.5" x2="1512" y2="660.5" stroke-width="1.5"/>
<text x="1423.6" y="677.8" font-size="21.8" text-anchor="middle" textLength="69" lengthAdjust="spacingAndGlyphs">CARPET</text>
<text x="561.6" y="620.5" font-size="20.9" text-anchor="middle" textLength="120" lengthAdjust="spacingAndGlyphs">PULL-DOWN</text>
<text x="552.8" y="643.9" font-size="20.9" text-anchor="middle" textLength="137.6" lengthAdjust="spacingAndGlyphs">ATTIC STAIRS</text>
<text x="549.8" y="823.2" font-size="20.3" text-anchor="middle" textLength="97.5" lengthAdjust="spacingAndGlyphs">HALL BATH</text>
<line x1="500" y1="825.8" x2="599" y2="825.8" stroke-width="1.5"/>
<text x="549.8" y="842.1" font-size="18.9" text-anchor="middle" textLength="47.4" lengthAdjust="spacingAndGlyphs">VINYL</text>
<text x="1178.4" y="1795.4" font-size="36.3" text-anchor="middle" textLength="408.8" lengthAdjust="spacingAndGlyphs" font-weight="bold" style="stroke-width:1.2px">SECOND FLOOR PLAN</text>
<line x1="973" y1="1798" x2="1385.7" y2="1798" stroke-width="3"/>
<text x="975" y="1817.6" font-size="17.6" text-anchor="start" textLength="209.7" lengthAdjust="spacingAndGlyphs" font-weight="bold">SCALE: 3/16"=1'-Ø"</text>
<polygon points="2033.8,227 2563.2,227 2563.2,611.2 2033.8,611.2" stroke-width="3.2"/>
<line x1="2033.8" y1="277.6" x2="2563.2" y2="277.6" stroke-width="2.2"/>
<line x1="2199.2" y1="277.6" x2="2199.2" y2="611.2" stroke-width="2"/>
<line x1="2516.6" y1="277.6" x2="2516.6" y2="611.2" stroke-width="2"/>
<line x1="2033.8" y1="303.7" x2="2563.2" y2="303.7" stroke-width="1.8"/>
<line x1="2033.8" y1="334.3" x2="2563.2" y2="334.3" stroke-width="1.8"/>
<line x1="2033.8" y1="365.4" x2="2563.2" y2="365.4" stroke-width="1.8"/>
<line x1="2033.8" y1="426.7" x2="2563.2" y2="426.7" stroke-width="1.8"/>
<line x1="2033.8" y1="457.3" x2="2563.2" y2="457.3" stroke-width="1.8"/>
<line x1="2033.8" y1="488" x2="2563.2" y2="488" stroke-width="1.8"/>
<line x1="2033.8" y1="518.6" x2="2563.2" y2="518.6" stroke-width="1.8"/>
<line x1="2033.8" y1="549.2" x2="2563.2" y2="549.2" stroke-width="1.8"/>
<line x1="2033.8" y1="579.8" x2="2563.2" y2="579.8" stroke-width="1.8"/>
<line x1="2199.2" y1="396" x2="2563.2" y2="396" stroke-width="1.8"/>
<text x="2298.2" y="262.4" font-size="33.5" text-anchor="middle" textLength="490" lengthAdjust="spacingAndGlyphs">2ND FLOOR LIGHTING SCHEDULE</text>
<line x1="2053" y1="265.5" x2="2547" y2="265.5" stroke-width="2"/>
<text x="2117" y="297.6" font-size="20.3" text-anchor="middle" textLength="64" lengthAdjust="spacingAndGlyphs">ROOM</text>
<line x1="2085" y1="299.5" x2="2150" y2="299.5" stroke-width="1.6"/>
<text x="2358.4" y="297.6" font-size="20.3" text-anchor="middle" textLength="84.8" lengthAdjust="spacingAndGlyphs">FIXTURE</text>
<line x1="2316" y1="299.5" x2="2402" y2="299.5" stroke-width="1.6"/>
<text x="2539.6" y="297.6" font-size="20.3" text-anchor="middle" textLength="42" lengthAdjust="spacingAndGlyphs">QTY</text>
<line x1="2518" y1="299.5" x2="2562" y2="299.5" stroke-width="1.6"/>
<text x="2117" y="326.6" font-size="21.4" text-anchor="middle" textLength="120.5" lengthAdjust="spacingAndGlyphs">PRIMARY W.I.C.</text>
<text x="2219.7" y="326.6" font-size="21.4" text-anchor="start" textLength="190" lengthAdjust="spacingAndGlyphs">FLUSH MOUNT LED</text>
<text x="2539.3" y="326.6" font-size="21.4" text-anchor="middle" textLength="9" lengthAdjust="spacingAndGlyphs">1</text>
<text x="2117" y="357.5" font-size="21.4" text-anchor="middle" textLength="146.5" lengthAdjust="spacingAndGlyphs">PRIMARY BEDROOM</text>
<text x="2219.7" y="357.5" font-size="21.4" text-anchor="start" textLength="131" lengthAdjust="spacingAndGlyphs">CEILING FAN</text>
<text x="2539.3" y="357.5" font-size="21.4" text-anchor="middle" textLength="9" lengthAdjust="spacingAndGlyphs">1</text>
<text x="2219.7" y="388.3" font-size="21.4" text-anchor="start" textLength="274" lengthAdjust="spacingAndGlyphs">2 BULB BATHROOM LIGHT</text>
<text x="2539.3" y="388.3" font-size="21.4" text-anchor="middle" textLength="15" lengthAdjust="spacingAndGlyphs">2</text>
<text x="2219.7" y="418.9" font-size="21.4" text-anchor="start" textLength="190" lengthAdjust="spacingAndGlyphs">FLUSH MOUNT LED</text>
<text x="2539.3" y="418.9" font-size="21.4" text-anchor="middle" textLength="9" lengthAdjust="spacingAndGlyphs">1</text>
<text x="2117" y="449.6" font-size="21.4" text-anchor="middle" textLength="136" lengthAdjust="spacingAndGlyphs">BEDROOM #2</text>
<text x="2219.7" y="449.6" font-size="21.4" text-anchor="start" textLength="190" lengthAdjust="spacingAndGlyphs">FLUSH MOUNT LED</text>
<text x="2539.3" y="449.6" font-size="21.4" text-anchor="middle" textLength="9" lengthAdjust="spacingAndGlyphs">1</text>
<text x="2117" y="480.2" font-size="21.4" text-anchor="middle" textLength="137" lengthAdjust="spacingAndGlyphs">BEDROOM #3</text>
<text x="2219.7" y="480.2" font-size="21.4" text-anchor="start" textLength="190" lengthAdjust="spacingAndGlyphs">FLUSH MOUNT LED</text>
<text x="2539.3" y="480.2" font-size="21.4" text-anchor="middle" textLength="9" lengthAdjust="spacingAndGlyphs">1</text>
<text x="2117" y="510.9" font-size="21.4" text-anchor="middle" textLength="140" lengthAdjust="spacingAndGlyphs">BEDROOM #4</text>
<text x="2219.7" y="510.9" font-size="21.4" text-anchor="start" textLength="190" lengthAdjust="spacingAndGlyphs">FLUSH MOUNT LED</text>
<text x="2539.3" y="510.9" font-size="21.4" text-anchor="middle" textLength="9" lengthAdjust="spacingAndGlyphs">1</text>
<text x="2117" y="541.5" font-size="21.4" text-anchor="middle" textLength="120.5" lengthAdjust="spacingAndGlyphs">HALL BATH</text>
<text x="2219.7" y="541.5" font-size="21.4" text-anchor="start" textLength="275.6" lengthAdjust="spacingAndGlyphs">3 BULB BATHROOM LIGHT</text>
<text x="2539.3" y="541.5" font-size="21.4" text-anchor="middle" textLength="9" lengthAdjust="spacingAndGlyphs">1</text>
<text x="2117" y="572.1" font-size="21.4" text-anchor="middle" textLength="99" lengthAdjust="spacingAndGlyphs">HALLWAY</text>
<text x="2219.7" y="572.1" font-size="21.4" text-anchor="start" textLength="190" lengthAdjust="spacingAndGlyphs">FLUSH MOUNT LED</text>
<text x="2539.3" y="572.1" font-size="21.4" text-anchor="middle" textLength="15" lengthAdjust="spacingAndGlyphs">2</text>
<text x="2117" y="602.9" font-size="21.4" text-anchor="middle" textLength="73.5" lengthAdjust="spacingAndGlyphs">UTILITY</text>
<text x="2219.7" y="602.9" font-size="21.4" text-anchor="start" textLength="190" lengthAdjust="spacingAndGlyphs">FLUSH MOUNT LED</text>
<text x="2539.3" y="602.9" font-size="21.4" text-anchor="middle" textLength="9" lengthAdjust="spacingAndGlyphs">1</text>
<text x="2116.6" y="403.6" font-size="21.4" text-anchor="middle" textLength="146.5" lengthAdjust="spacingAndGlyphs">PRIMARY BATH</text>
<rect x="2646.5" y="132.5" width="294.5" height="1794" rx="31" stroke-width="4"/>
<rect x="2658.5" y="144.2" width="271" height="1771.6" rx="23" stroke-width="2"/>
<text x="2793.6" y="172.6" font-size="24.4" text-anchor="middle" textLength="185" lengthAdjust="spacingAndGlyphs">GENERAL NOTES</text>
<line x1="2658.5" y1="189" x2="2929.5" y2="189" stroke-width="3.2"/>
<text x="2667" y="219" font-size="20.9" text-anchor="start" textLength="81.8" lengthAdjust="spacingAndGlyphs">FINISHED</text>
<line x1="2667" y1="221.5" x2="2748.8" y2="221.5" stroke-width="1.5"/>
<text x="2667" y="249.5" font-size="20.9" text-anchor="start" textLength="95.5" lengthAdjust="spacingAndGlyphs">1ST FLOOR</text>
<text x="2926" y="249.5" font-size="20.9" text-anchor="end" textLength="89.6" lengthAdjust="spacingAndGlyphs">952 SQ.FT.</text>
<text x="2667" y="279.8" font-size="20.9" text-anchor="start" textLength="106" lengthAdjust="spacingAndGlyphs">2ND FLOOR</text>
<text x="2926" y="279.8" font-size="20.9" text-anchor="end" textLength="92.7" lengthAdjust="spacingAndGlyphs">1,158 SQ.FT.</text>
<text x="2667" y="310.1" font-size="20.9" text-anchor="start" textLength="123.5" lengthAdjust="spacingAndGlyphs">BONUS ROOM</text>
<text x="2667" y="340.5" font-size="20.9" text-anchor="start" textLength="51.8" lengthAdjust="spacingAndGlyphs">ATTIC</text>
<text x="2667" y="371" font-size="20.9" text-anchor="start" textLength="59.6" lengthAdjust="spacingAndGlyphs">TOTAL</text>
<line x1="2667" y1="373.5" x2="2726.6" y2="373.5" stroke-width="1.5"/>
<text x="2925" y="371" font-size="20.9" text-anchor="end" textLength="95.5" lengthAdjust="spacingAndGlyphs">2,11Ø SQ.FT.</text>
<line x1="2829.5" y1="373.5" x2="2925" y2="373.5" stroke-width="1.5"/>
<text x="2667" y="402.2" font-size="20.9" text-anchor="start" textLength="103" lengthAdjust="spacingAndGlyphs">UNFINISHED</text>
<line x1="2667" y1="404.7" x2="2770" y2="404.7" stroke-width="1.5"/>
<text x="2667" y="432.5" font-size="20.9" text-anchor="start" textLength="79" lengthAdjust="spacingAndGlyphs">GARAGE</text>
<text x="2926" y="432.5" font-size="20.9" text-anchor="end" textLength="90.7" lengthAdjust="spacingAndGlyphs">534 SQ.FT.</text>
<text x="2667" y="462.8" font-size="20.9" text-anchor="start" textLength="97.4" lengthAdjust="spacingAndGlyphs">BASEMENT</text>
<text x="2667" y="493.5" font-size="20.9" text-anchor="start" textLength="51.8" lengthAdjust="spacingAndGlyphs">ATTIC</text>
<text x="2667" y="523.8" font-size="20.9" text-anchor="start" textLength="130.5" lengthAdjust="spacingAndGlyphs">ATTACHMENTS</text>
<text x="2667" y="554.9" font-size="20.9" text-anchor="start" textLength="132.5" lengthAdjust="spacingAndGlyphs">FRONT PORCH</text>
<text x="2926" y="554.9" font-size="20.9" text-anchor="end" textLength="81.5" lengthAdjust="spacingAndGlyphs">11Ø SQ.FT.</text>
<text x="2667" y="585.3" font-size="20.9" text-anchor="start" textLength="53.4" lengthAdjust="spacingAndGlyphs">DECK</text>
<text x="2926" y="585.3" font-size="20.9" text-anchor="end" textLength="88.6" lengthAdjust="spacingAndGlyphs">18Ø SQ.FT.</text>
<line x1="2658.5" y1="627.7" x2="2929.5" y2="627.7" stroke-width="3.2"/>
<line x1="2658.5" y1="654.5" x2="2929.5" y2="654.5" stroke-width="1.6"/>
<line x1="2658.5" y1="680" x2="2929.5" y2="680" stroke-width="1.6"/>
<line x1="2658.5" y1="705.6" x2="2929.5" y2="705.6" stroke-width="3.2"/>
<line x1="2720.4" y1="627.7" x2="2720.4" y2="705.6" stroke-width="1.6"/>
<line x1="2856" y1="627.7" x2="2856" y2="705.6" stroke-width="1.6"/>
<text x="2690.4" y="650.2" font-size="19.6" text-anchor="middle" textLength="30" lengthAdjust="spacingAndGlyphs">NO:</text>
<text x="2789.7" y="650.2" font-size="19.6" text-anchor="middle" textLength="84" lengthAdjust="spacingAndGlyphs">REVISION</text>
<text x="2892.5" y="650.2" font-size="19.6" text-anchor="middle" textLength="50" lengthAdjust="spacingAndGlyphs">DATE</text>
<g transform="matrix(0,-1,-1,0,2789.2,1280)" stroke-linecap="round" stroke-linejoin="round">
<path d="M5 57 L35.5 57" stroke-width="5.6"/>
<path d="M20.3 3 L20.3 62.5" stroke-width="2.8"/>
<path d="M48.1 3.4 L48.1 62.5 M80.2 3.4 L80.2 62.5" stroke-width="2.8"/>
<path d="M43 25.4 L84.4 25.4" stroke-width="5.6"/>
<path d="M96.2 0 L96.2 62.5" stroke-width="2.8"/>
<path d="M93.7 56.6 L130 56.6 M93.7 33 L126.6 33 M93.7 5.1 L130 5.1" stroke-width="5.6"/>
<path d="M210.2 62.5 L210.2 19 M189.1 58 L189.1 19 M170.5 58 L170.5 19" stroke-width="2.8"/>
<path d="M210.2 19 C210.2 0 189.1 0 189.1 19 C189.1 0 170.5 0 170.5 19" stroke-width="5.6"/>
<path d="M216.8 4.2 L246.4 61.9 L262.7 4.2" stroke-width="3.6"/>
<path d="M219.5 17.8 L263.6 17.8" stroke-width="5.6"/>
<path d="M274.5 0 L274.5 62.8" stroke-width="2.8"/>
<path d="M270.5 6.5 L305.9 6.5" stroke-width="5.6"/>
<path d="M320 0 L320 62.8" stroke-width="2.8"/>
<path d="M316 6.5 L350.3 6.5" stroke-width="5.6"/>
<path d="M361 3.9 L390.3 61.7 L407.2 3.9" stroke-width="3.6"/>
<path d="M364 17.9 L408.4 17.9" stroke-width="5.6"/>
<path d="M459.2 51.8 Q440 66 421 48 Q413 30 422 12 Q433 -2 449 4 L461.6 17.9" stroke-width="5.6"/>
<path d="M473.2 -0.8 L473.2 62.9" stroke-width="2.8"/>
<path d="M470.5 55.3 L507.7 55.3 M470.5 32.5 L504.8 32.5 M470.5 6.2 L507.7 6.2" stroke-width="5.6"/>
</g>
<g transform="matrix(0,-1,-1,0,2845.5,1280)" stroke-linecap="round" stroke-linejoin="round">
<path d="M69.2 0 L69.2 37" stroke-width="2.4"/>
<path d="M69.2 37 L88 37 Q97 37 97 28 Q97 19 88 19 L69.2 19 M69.2 19 L89 19 Q98 19 98 9.5 Q98 0 89 0 L69.2 0" stroke-width="4.6"/>
<path d="M114.8 2.3 L114.8 23.4" stroke-width="2.4"/>
<path d="M102.1 35.2 L114.8 23.4 L126.6 37" stroke-width="3.4"/>
<path d="M136.8 0 L136.8 37" stroke-width="2.4"/>
<path d="M136.8 37 L155 37 Q163.8 37 163.8 28 Q163.8 19 155 19 L136.8 19 M136.8 19 L155 19 Q164.5 19 164.5 9.5 Q164.5 0 155 0 L136.8 0" stroke-width="4.6"/>
<path d="M170.5 0 L170.5 38" stroke-width="2.4"/>
<path d="M168 33.5 L191.6 33.5 M168 20 L189 20 M168 4 L191.6 4" stroke-width="4.6"/>
<path d="M200 0 L200 38" stroke-width="2.4"/>
<path d="M197.5 33.5 L220.3 33.5 M197.5 20 L218.6 20 M197.5 4 L220.3 4" stroke-width="4.6"/>
<path d="M247.3 0 L247.3 38.7" stroke-width="2.4"/>
<path d="M243.6 4.5 L266 4.5" stroke-width="4.6"/>
<path d="M286.4 1.8 C276 1.8 270.5 10 270.5 19.1 C270.5 30 277 36.4 286.4 36.4 C296 36.4 302.3 30 302.3 19.1 C302.3 10 296 1.8 286.4 1.8 Z" stroke-width="4.6"/>
<path d="M305 34.1 L325.5 34.1" stroke-width="4.6"/>
<path d="M315.5 1.9 L315.5 38.7" stroke-width="2.4"/>
<path d="M350 16 L350 39 M356.5 16 L356.5 39" stroke-width="3.4"/>
<path d="M346 22 L361 22 M346 32 L361 32" stroke-width="2.4"/>
<path d="M361 30 Q361 38.5 369 38.5 Q377.5 38.5 377 30 Q376 22 359 3 L377 3" stroke-width="4.6"/>
<path d="M405.5 36 Q392 36 386 22 Q383 5 395 3 Q406 2 406 11 Q406 19 396 19 Q387 19 386 12" stroke-width="4.6"/>
<path d="M416.6 2.9 L433.5 38 L444 2.9" stroke-width="3.2"/>
<path d="M417 11.1 L444 11.1" stroke-width="4.6"/>
</g>
<line x1="2658.5" y1="1342.3" x2="2929.5" y2="1342.3" stroke-width="3.2"/>
<polygon points="2743.3,1343.6 2746.8,1353.7 2757.6,1354 2749,1360.5 2752.1,1370.7 2743.3,1364.6 2734.5,1370.7 2737.6,1360.5 2729,1354 2739.8,1353.7" stroke-width="0.5" fill="#000"/>
<polygon points="2779.3,1343.6 2782.8,1353.7 2793.6,1354 2785,1360.5 2788.1,1370.7 2779.3,1364.6 2770.5,1370.7 2773.6,1360.5 2765,1354 2775.8,1353.7" stroke-width="0.5" fill="#000"/>
<polygon points="2713.9,1360 2717.4,1370.1 2728.2,1370.4 2719.6,1376.9 2722.7,1387.1 2713.9,1381 2705.1,1387.1 2708.2,1376.9 2699.6,1370.4 2710.4,1370.1" stroke-width="0.5" fill="#000"/>
<polygon points="2808.8,1360 2812.3,1370.1 2823.1,1370.4 2814.5,1376.9 2817.6,1387.1 2808.8,1381 2800,1387.1 2803.1,1376.9 2794.5,1370.4 2805.3,1370.1" stroke-width="0.5" fill="#000"/>
<polygon points="2691.4,1386.6 2694.9,1396.7 2705.7,1397 2697.1,1403.5 2700.2,1413.7 2691.4,1407.6 2682.6,1413.7 2685.7,1403.5 2677.1,1397 2687.9,1396.7" stroke-width="0.5" fill="#000"/>
<polygon points="2829.3,1386.6 2832.8,1396.7 2843.6,1397 2835,1403.5 2838.1,1413.7 2829.3,1407.6 2820.5,1413.7 2823.6,1403.5 2815,1397 2825.8,1396.7" stroke-width="0.5" fill="#000"/>
<polygon points="2682.4,1421.4 2685.9,1431.5 2696.7,1431.8 2688.1,1438.3 2691.2,1448.5 2682.4,1442.4 2673.6,1448.5 2676.7,1438.3 2668.1,1431.8 2678.9,1431.5" stroke-width="0.5" fill="#000"/>
<polygon points="2693.4,1454.1 2696.9,1464.2 2707.7,1464.5 2699.1,1471 2702.2,1481.2 2693.4,1475.1 2684.6,1481.2 2687.7,1471 2679.1,1464.5 2689.9,1464.2" stroke-width="0.5" fill="#000"/>
<polygon points="2711.8,1478.7 2715.3,1488.8 2726.1,1489.1 2717.5,1495.6 2720.6,1505.8 2711.8,1499.7 2703,1505.8 2706.1,1495.6 2697.5,1489.1 2708.3,1488.8" stroke-width="0.5" fill="#000"/>
<polygon points="2744.6,1495 2748.1,1505.1 2758.9,1505.4 2750.3,1511.9 2753.4,1522.1 2744.6,1516 2735.8,1522.1 2738.9,1511.9 2730.3,1505.4 2741.1,1505.1" stroke-width="0.5" fill="#000"/>
<text x="2703" y="1465" style="font-family:'Liberation Serif';stroke-width:2.4px;fill:#2a2a2a;stroke:#2a2a2a" font-style="italic" font-size="110" textLength="219" lengthAdjust="spacingAndGlyphs">Liberty</text>
<text x="2766" y="1509" style="font-family:'Liberation Serif';stroke-width:1.8px;fill:#2a2a2a;stroke:#2a2a2a" font-style="italic" font-size="60" textLength="104" lengthAdjust="spacingAndGlyphs">Homes</text>
<text x="2808" y="1532" style="font-family:'Liberation Serif';stroke-width:0.4px;fill:#2a2a2a;stroke:#2a2a2a" font-style="italic" font-size="34" textLength="108" lengthAdjust="spacingAndGlyphs">of Virginia</text>
<line x1="2658.5" y1="1545.6" x2="2929.5" y2="1545.6" stroke-width="3.2"/>
<text x="2795.7" y="1572" font-size="16.8" text-anchor="middle" textLength="250" lengthAdjust="spacingAndGlyphs">8249 CROWN COLONY PARKWAY</text>
<text x="2795.7" y="1591.7" font-size="16.8" text-anchor="middle" textLength="204.6" lengthAdjust="spacingAndGlyphs">MECHANICSVILLE, VA 23116</text>
<text x="2795.7" y="1611" font-size="16.8" text-anchor="middle" textLength="180" lengthAdjust="spacingAndGlyphs">PHONE (8Ø4) 73Ø-777Ø</text>
<text x="2796.4" y="1630.6" font-size="16.8" text-anchor="middle" textLength="181" lengthAdjust="spacingAndGlyphs">www.LibertyHomesVA.com</text>
<line x1="2658.5" y1="1643" x2="2929.5" y2="1643" stroke-width="3.2"/>
<text x="2666" y="1665" font-size="19.6" text-anchor="start" textLength="54.8" lengthAdjust="spacingAndGlyphs">DATE:</text>
<text x="2926.6" y="1665" font-size="19.6" text-anchor="end" textLength="115.8" lengthAdjust="spacingAndGlyphs">JULY 9, 2Ø25</text>
<line x1="2658.5" y1="1669.6" x2="2929.5" y2="1669.6" stroke-width="1.6"/>
<text x="2666" y="1690.9" font-size="19.6" text-anchor="start" textLength="105" lengthAdjust="spacingAndGlyphs">DRAWN BY:</text>
<text x="2925.4" y="1690.9" font-size="19.6" text-anchor="end" textLength="38.4" lengthAdjust="spacingAndGlyphs">RAK</text>
<line x1="2658.5" y1="1695.3" x2="2929.5" y2="1695.3" stroke-width="1.6"/>
<text x="2666" y="1716.7" font-size="19.6" text-anchor="start" textLength="65.5" lengthAdjust="spacingAndGlyphs">SCALE:</text>
<text x="2927.4" y="1716.7" font-size="19.6" text-anchor="end" textLength="109.4" lengthAdjust="spacingAndGlyphs">3/16" = 1'-Ø"</text>
<line x1="2658.5" y1="1721.5" x2="2929.5" y2="1721.5" stroke-width="3.2"/>
<path d="M2780 1790.5 Q2788 1782 2796.4 1782 Q2805 1783 2804.5 1793 Q2803 1804 2786 1810 M2793 1808.5 Q2810 1810 2810.8 1820 Q2811 1834 2795 1840.5 L2776 1840.5 M2776 1845.5 L2789 1845.5 Q2806 1841 2809.5 1830" stroke-width="3.8" stroke-linecap="round" stroke-linejoin="round"/>
<line x1="2679" y1="1859" x2="2908" y2="1859" stroke-width="3.2"/>
<text x="2793.6" y="1883" font-size="16.8" text-anchor="middle" textLength="41" lengthAdjust="spacingAndGlyphs">SHEET</text>
<text x="2793.6" y="1902.6" font-size="16.8" text-anchor="middle" textLength="41" lengthAdjust="spacingAndGlyphs">3 OF 11</text>
<polygon points="1844,1802 2598.2,1802 2598.2,1927 1844,1927" stroke-width="2.2"/>
<polygon points="1849.7,1807 2592.6,1807 2592.6,1922 1849.7,1922" stroke-width="1.5"/>
<text x="1861" y="1836" font-size="20.9" text-anchor="start" textLength="719" lengthAdjust="spacingAndGlyphs">NOTE: THESE PLANS ARE DEEMED ACCURATE BUT ARE SUBJECT TO FIELD</text>
<text x="1861" y="1860.5" font-size="20.9" text-anchor="start" textLength="691" lengthAdjust="spacingAndGlyphs">CHANGES DUE TO CODE REQUIREMENTS AND MECHANICAL SUITABILITY.</text>
<text x="1861" y="1885" font-size="20.9" text-anchor="start" textLength="655" lengthAdjust="spacingAndGlyphs">PLEASE CONSULT SALES CONTRACT FOR ACTUAL OPTIONS CHOSEN.</text>
<text x="1861" y="1909.8" font-size="20.9" text-anchor="start" textLength="627.5" lengthAdjust="spacingAndGlyphs">BUILDER RESERVES THE RIGHT TO MAKE CHANGES AT ANY TIME.</text>
<rect x="2962.2" y="1934.1" width="99.5" height="35.2" fill="#0b5db5" stroke="none"/>
<rect x="2962.2" y="1969.3" width="99.5" height="9.5" fill="#e38b1f" stroke="none"/>
<text x="3012" y="1963.6" font-size="33.5" text-anchor="middle" textLength="88" lengthAdjust="spacingAndGlyphs" font-weight="bold" style="fill:#fff;stroke:#fff">CAAR</text>
<text x="3012" y="1976.5" font-size="7" text-anchor="middle" textLength="88" lengthAdjust="spacingAndGlyphs" style="fill:#fde9cc;stroke:#fde9cc">Charlottesville Area Association of REALTORS</text>
</svg>
</body></html>
